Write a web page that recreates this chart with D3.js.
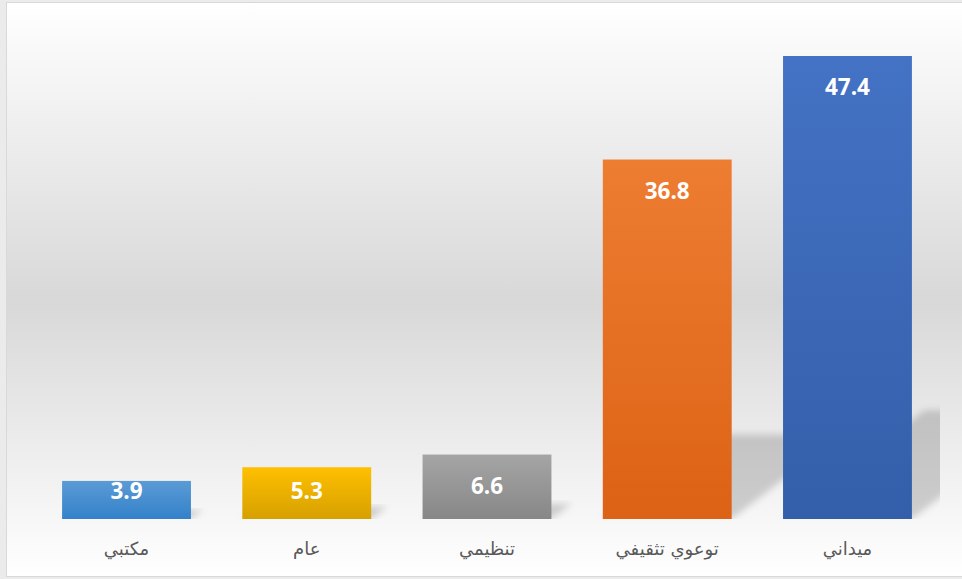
<!DOCTYPE html>
<html>
<head>
<meta charset="utf-8">
<script src="https://cdn.jsdelivr.net/npm/d3@7"></script>
<style>
  body { margin: 0; background: #ebebeb; }
  svg { display: block; }
</style>
</head>
<body>
<div id="chart"></div>
<script>
// chart data (left to right as drawn)
const categories = ["مكتبي", "عام", "تنظيمي", "توعوي تثقيفي", "ميداني"];
const values = [3.9, 5.3, 6.6, 36.8, 47.4];
const topColors = ["#5b9bd5", "#ffc000", "#a5a5a5", "#ed7d31", "#4472c4"];
const bottomColors = ["#3381ca", "#d6a000", "#878787", "#dc6215", "#335ea9"];

const W = 962, H = 579;
const baseY = 519;

const svg = d3.select("#chart").append("svg")
    .attr("width", W)
    .attr("height", H);

const defs = svg.append("defs");

// background gradient of the chart area
const bg = defs.append("linearGradient")
    .attr("id", "bg-grad")
    .attr("x1", 0).attr("y1", 0).attr("x2", 0).attr("y2", 1);
bg.append("stop").attr("offset", "0%").attr("stop-color", "#ffffff");
bg.append("stop").attr("offset", "52%").attr("stop-color", "#d8d8d8");
bg.append("stop").attr("offset", "100%").attr("stop-color", "#ffffff");

// one gradient per bar
categories.forEach((c, i) => {
    const g = defs.append("linearGradient")
        .attr("id", "bar-grad-" + i)
        .attr("x1", 0).attr("y1", 0).attr("x2", 0).attr("y2", 1);
    g.append("stop").attr("offset", "0%").attr("stop-color", topColors[i]);
    g.append("stop").attr("offset", "100%").attr("stop-color", bottomColors[i]);
});

defs.append("filter")
    .attr("id", "blur")
    .attr("x", "-20%").attr("y", "-20%").attr("width", "140%").attr("height", "140%")
    .append("feGaussianBlur")
    .attr("stdDeviation", 3.5);

defs.append("clipPath")
    .attr("id", "plot-clip")
    .append("rect")
    .attr("x", 8).attr("y", 10)
    .attr("width", 932).attr("height", baseY - 10);

// chart box
svg.append("rect")
    .attr("x", 6.5).attr("y", 2.5)
    .attr("width", W).attr("height", 574)
    .attr("fill", "url(#bg-grad)")
    .attr("stroke", "#d9d9d9")
    .attr("stroke-width", 1);

const x = d3.scaleBand()
    .domain(categories)
    .range([36.4, 937.6])
    .paddingInner(0.285)
    .paddingOuter(0.1425);

const y = d3.scaleLinear()
    .domain([0, 50])
    .range([baseY, 30.6]);

const data = categories.map((c, i) => ({cat: c, value: values[i], i: i}));

// perspective shadows behind the bars
svg.append("g")
    .attr("clip-path", "url(#plot-clip)")
    .selectAll("polygon")
    .data(data)
    .enter()
    .append("polygon")
    .attr("points", d => {
        const x0 = x(d.cat), x1 = x(d.cat) + x.bandwidth();
        const hs = (baseY - y(d.value)) * 0.235;
        const dx = hs * 1.3;
        return [[x0, baseY], [x1, baseY], [x1 + dx, baseY - hs], [x0 + dx, baseY - hs]]
            .map(p => p.join(",")).join(" ");
    })
    .attr("fill", "#000")
    .attr("fill-opacity", 0.17)
    .attr("filter", "url(#blur)");

// bars
svg.selectAll("rect.bar")
    .data(data)
    .enter()
    .append("rect")
    .attr("class", "bar")
    .attr("x", d => x(d.cat))
    .attr("y", d => y(d.value))
    .attr("width", x.bandwidth())
    .attr("height", d => baseY - y(d.value))
    .attr("fill", d => "url(#bar-grad-" + d.i + ")");

// value labels (inside end)
svg.selectAll("text.value")
    .data(data)
    .enter()
    .append("text")
    .attr("class", "value")
    .attr("x", d => x(d.cat) + x.bandwidth() / 2)
    .attr("y", d => Math.min(y(d.value) + 39, baseY - 20))
    .attr("text-anchor", "middle")
    .attr("font-family", "'Open Sans', sans-serif")
    .attr("font-weight", "bold")
    .attr("font-size", "22.5px")
    .attr("fill", "#ffffff")
    .text(d => d.value.toFixed(1));

// category axis labels
svg.selectAll("text.cat")
    .data(data)
    .enter()
    .append("text")
    .attr("class", "cat")
    .attr("x", d => x(d.cat) + x.bandwidth() / 2)
    .attr("y", 555)
    .attr("text-anchor", "middle")
    .attr("direction", "rtl")
    .attr("font-family", "'DejaVu Sans', sans-serif")
    .attr("font-size", "18px")
    .attr("fill", "#595959")
    .text(d => d.cat);
</script>
</body>
</html>
